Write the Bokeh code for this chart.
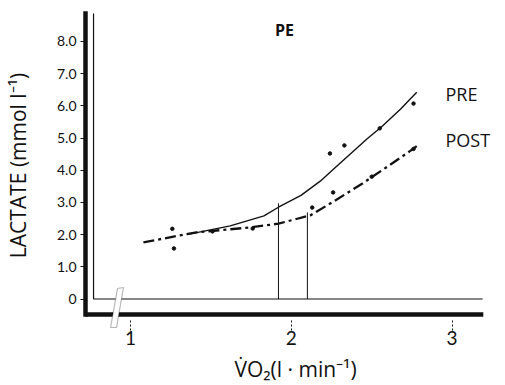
from bokeh.plotting import figure
from bokeh.models import FixedTicker, Range1d, Label, PolyAnnotation
from bokeh.embed import file_html
from bokeh.resources import INLINE

# Blood lactate (mmol/l) against oxygen uptake (l/min), before and after training
pre_vo2 = [1.35, 1.62, 1.83, 1.92, 2.06, 2.18, 2.26, 2.47, 2.56, 2.68, 2.78]
pre_lac = [2.00, 2.27, 2.58, 2.85, 3.22, 3.66, 4.02, 4.97, 5.34, 5.90, 6.42]

post_vo2 = [1.08, 1.41, 1.74, 1.92, 2.12, 2.27, 2.44, 2.60, 2.74, 2.78]
post_lac = [1.76, 2.07, 2.22, 2.34, 2.60, 3.05, 3.58, 4.12, 4.60, 4.75]

# individual measurements
pre_pts_vo2 = [1.26, 2.24, 2.33, 2.55, 2.76]
pre_pts_lac = [2.18, 4.52, 4.77, 5.30, 6.07]
post_pts_vo2 = [1.27, 1.51, 1.76, 2.13, 2.26, 2.50, 2.76]
post_pts_lac = [1.57, 2.10, 2.19, 2.84, 3.31, 3.80, 4.66]

# lactate thresholds (vertical markers)
thr_vo2 = [1.92, 2.10]
thr_lac = [2.97, 2.69]

x_ticks = [1, 2, 3]
y_ticks = [0, 1, 2, 3, 4, 5, 6, 7, 8]
y_tick_labels = ["0", "1.0", "2.0", "3.0", "4.0", "5.0", "6.0", "7.0", "8.0"]

SANS = "Open Sans"
INK = "#111111"

# extents of the heavy outer frame and the thin inner frame (data units)
X0, X1 = 0.708, 3.194          # heavy baseline
Y_BASE, Y_TOP = -0.481, 8.866  # heavy baseline level / top of verticals
X_INNER, X_INNER_END = 0.770, 3.19

p = figure(width=505, height=385,
           x_range=Range1d(0.720, 3.332), y_range=Range1d(-0.978, 9.27),
           min_border_left=85, min_border_right=0,
           min_border_top=0, min_border_bottom=55,
           output_backend="svg", toolbar_location=None)
p.outline_line_color = None
p.grid.visible = False
p.background_fill_color = "white"
p.border_fill_color = "white"

# vertical axis: heavy line with ticks and labels
p.yaxis.bounds = (Y_BASE, Y_TOP)
p.yaxis.axis_line_width = 4.5
p.yaxis.axis_line_color = INK
p.yaxis.axis_line_cap = "square"
p.yaxis.minor_tick_line_color = None
p.yaxis.ticker = FixedTicker(ticks=y_ticks)
p.yaxis.major_label_overrides = {t: s for t, s in zip(y_ticks, y_tick_labels)}
p.yaxis.major_tick_in = 0
p.yaxis.major_tick_out = 5
p.yaxis.major_tick_line_width = 1
p.yaxis.major_tick_line_color = INK
p.yaxis.major_label_standoff = 4
p.yaxis.major_label_text_font = "Lato"
p.yaxis.major_label_text_font_size = "14px"
p.yaxis.major_label_text_color = INK
p.yaxis.axis_label = "LACTATE (mmol l\u207b\u00b9)"
p.yaxis.axis_label_text_font = SANS
p.yaxis.axis_label_text_font_style = "normal"
p.yaxis.axis_label_text_font_size = "21px"
p.yaxis.axis_label_text_color = INK
p.yaxis.axis_label_standoff = 22

# horizontal axis: dotted ticks hanging under the heavy baseline
p.xaxis.axis_line_color = None
p.xaxis.minor_tick_line_color = None
p.xaxis.ticker = FixedTicker(ticks=x_ticks)
p.xaxis.major_tick_in = 12
p.xaxis.major_tick_out = 0
p.xaxis.major_tick_line_dash = "2 2"
p.xaxis.major_tick_line_width = 1
p.xaxis.major_tick_line_color = INK
p.xaxis.major_label_standoff = 0
p.xaxis.major_label_text_font = "Lato"
p.xaxis.major_label_text_font_size = "19px"
p.xaxis.major_label_text_color = INK
p.xaxis.axis_label = "V\u0307O\u2082(l \u00b7 min\u207b\u00b9)"
p.xaxis.axis_label_text_font = SANS
p.xaxis.axis_label_text_font_style = "normal"
p.xaxis.axis_label_text_font_size = "21px"
p.xaxis.axis_label_text_color = INK
p.xaxis.axis_label_standoff = 7

# heavy baseline
p.line([X0, X1], [Y_BASE, Y_BASE], line_color=INK, line_width=4.5)

# thin inner axes meeting at lactate zero
p.line([X_INNER, X_INNER, X_INNER_END], [Y_TOP, 0, 0], line_color=INK, line_width=1.2)

# threshold markers
p.segment(x0=thr_vo2, y0=[0, 0], x1=thr_vo2, y1=thr_lac, line_color=INK, line_width=1)

# fitted curves
p.line(pre_vo2, pre_lac, line_color=INK, line_width=1.4)
p.line(post_vo2, post_lac, line_color=INK, line_width=2.3, line_dash="11 4 3 4")

# measurements
p.scatter(pre_pts_vo2, pre_pts_lac, size=3.5, color=INK)
p.scatter(post_pts_vo2, post_pts_lac, size=3.5, color=INK)

# axis break symbol
p.add_layout(PolyAnnotation(xs=[0.919, 0.956, 0.913, 0.876],
                            ys=[0.326, 0.357, -0.885, -0.885],
                            fill_color="white", fill_alpha=1.0,
                            line_color=INK, line_width=1.2))

# panel title and series names
p.add_layout(Label(x=1.958, y=8.34, text="PE", text_align="center",
                   text_baseline="middle", text_font=SANS,
                   text_font_style="bold", text_font_size="16px", text_color=INK))
p.add_layout(Label(x=2.959, y=6.38, text="PRE", text_font=SANS,
                   text_baseline="alphabetic", text_font_size="18px", text_color=INK))
p.add_layout(Label(x=2.959, y=4.95, text="POST", text_font=SANS,
                   text_baseline="alphabetic", text_font_size="18px", text_color=INK))

open("out.html", "w").write(file_html(p, INLINE))
